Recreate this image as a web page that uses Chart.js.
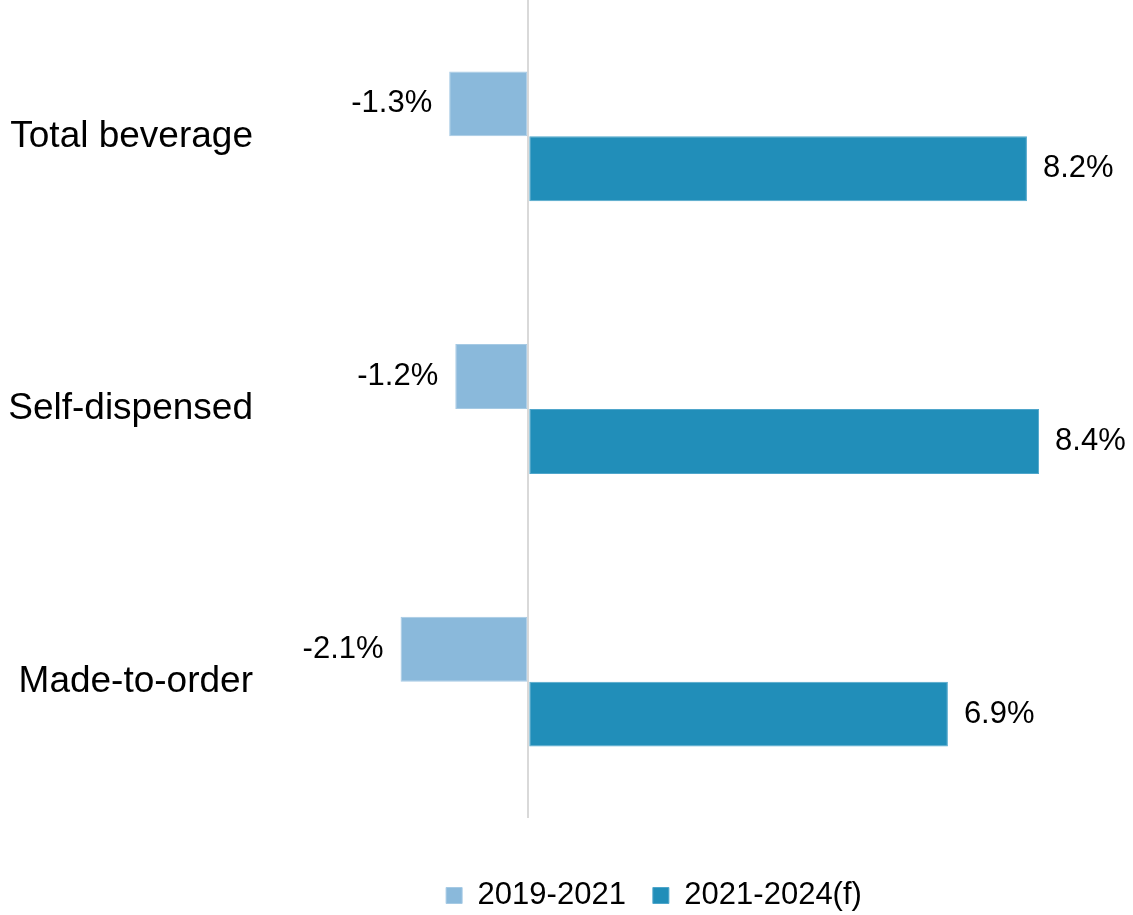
<!DOCTYPE html>
<html>
<head>
<meta charset="utf-8">
<script src="https://cdn.jsdelivr.net/npm/chart.js@4/dist/chart.umd.min.js"></script>
<style>
	html, body { margin: 0; padding: 0; background: #fff; }
	#wrap { width: 1133px; height: 915px; }
</style>
</head>
<body>
<div id="wrap"><canvas id="growthChart"></canvas></div>
<script>
const categories = ['Total beverage', 'Self-dispensed', 'Made-to-order'];
const seriesNames = ['2019-2021', '2021-2024(f)'];
const growth2019 = [-1.3, -1.2, -2.1];
const growth2021 = [8.2, 8.4, 6.9];

const FONT = "'Liberation Sans', Arial, sans-serif";
const LEGEND_SHIFT_X = 101;   // legend sits right of the canvas centre
const LEGEND_SHIFT_Y = 6;

// Value labels next to each bar end (plus a small legend nudge)
const barValueLabels = {
	id: 'barValueLabels',
	afterLayout(chart) {
		const lg = chart.legend;
		if (lg) {
			lg.left += LEGEND_SHIFT_X;
			lg.right += LEGEND_SHIFT_X;
			lg.top += LEGEND_SHIFT_Y;
			lg.bottom += LEGEND_SHIFT_Y;
		}
	},
	afterDatasetsDraw(chart) {
		const ctx = chart.ctx;
		ctx.save();
		ctx.font = '31px ' + FONT;
		ctx.fillStyle = '#000';
		ctx.textBaseline = 'middle';
		chart.data.datasets.forEach((ds, i) => {
			chart.getDatasetMeta(i).data.forEach((bar, j) => {
				const v = ds.data[j];
				const txt = v.toFixed(1) + '%';
				if (v < 0) {
					ctx.textAlign = 'right';
					ctx.fillText(txt, bar.x - 17, bar.y);
				} else {
					ctx.textAlign = 'left';
					ctx.fillText(txt, bar.x + 16, bar.y);
				}
			});
		});
		ctx.restore();
	}
};

new Chart(document.getElementById('growthChart'), {
	type: 'bar',
	data: {
		labels: categories,
		datasets: [{
			label: seriesNames[0],
			data: growth2019,
			backgroundColor: '#8AB9DB',
			borderColor: '#A6CAE4',
			borderWidth: 1,
			borderSkipped: false
		}, {
			label: seriesNames[1],
			data: growth2021,
			backgroundColor: '#218EB9',
			borderColor: '#4FA6CB',
			borderWidth: 1,
			borderSkipped: false
		}]
	},
	options: {
		indexAxis: 'y',
		responsive: true,
		maintainAspectRatio: false,
		animation: false,
		categoryPercentage: 0.476,
		barPercentage: 1,
		layout: { padding: { top: 0, right: 27, bottom: 0, left: 0 } },
		plugins: {
			tooltip: { enabled: false },
			legend: {
				position: 'bottom',
				labels: {
					boxWidth: 16,
					boxHeight: 16,
					padding: 27,
					color: '#000',
					font: { family: FONT, size: 31 }
				}
			}
		},
		scales: {
			x: {
				min: -4,
				max: 9.5,
				border: { display: false },
				ticks: { display: false },
				grid: {
					drawTicks: false,
					lineWidth: 2,
					color: c => c.tick && c.tick.value === 0 ? '#D9D9D9' : 'rgba(0,0,0,0)'
				},
				afterFit: scale => { scale.height = 29; }
			},
			y: {
				border: { display: false },
				grid: { display: false, drawTicks: true, tickLength: 32 },
				ticks: {
					padding: 0,
					color: '#000',
					font: { family: FONT, size: 37 }
				},
				afterFit: scale => {
					scale.width = 285;
					scale.paddingTop = 0;
					scale.paddingBottom = 0;
				}
			}
		}
	},
	plugins: [barValueLabels]
});
</script>
</body>
</html>
